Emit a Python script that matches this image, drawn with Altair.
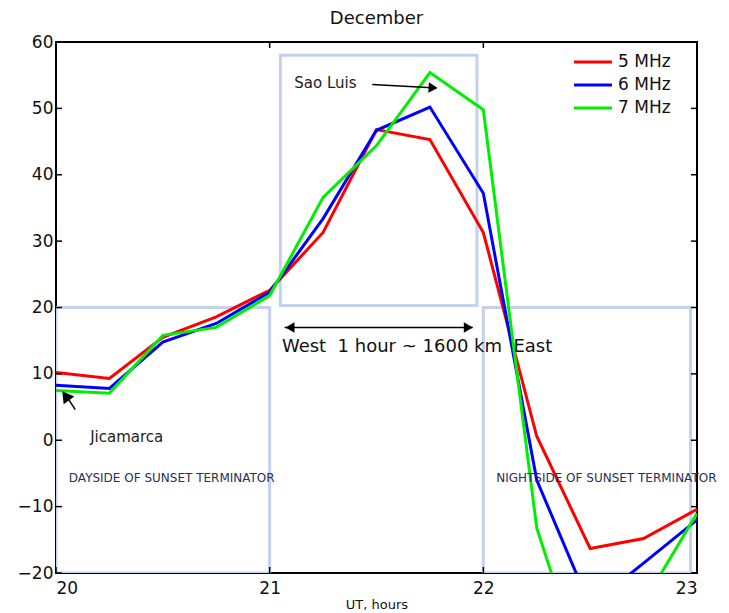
import altair as alt
import pandas as pd

# Time axis (UT hours) and the three sounding frequencies
hours = [20.0, 20.25, 20.5, 20.75, 21.0, 21.25, 21.5, 21.75, 22.0, 22.25, 22.5, 22.75, 23.0]
f5_mhz = [10.2, 9.3, 15.5, 18.6, 22.6, 31.3, 46.8, 45.3, 31.3, 0.6, -16.3, -14.8, -10.4]
f6_mhz = [8.3, 7.8, 14.8, 17.6, 22.3, 33.4, 46.7, 50.2, 37.2, -6.0, -25.0, -18.5, -12.0]
f7_mhz = [7.5, 7.1, 15.8, 17.0, 21.8, 36.6, 44.4, 55.4, 49.8, -13.2, -38.0, -24.5, -11.0]
series_names = ["5 MHz", "6 MHz", "7 MHz"]
series_colors = ["#ff0000", "#0000ff", "#00ee00"]

# Shaded regions: dayside, Sao Luis window, nightside
box_x0 = [20.0, 21.05, 22.0]
box_x1 = [21.0, 21.97, 22.97]
box_y0 = [-20.0, 20.3, -20.0]
box_y1 = [20.0, 58.0, 20.0]

x_ticks = [20, 21, 22, 23]
y_ticks = [-20, -10, 0, 10, 20, 30, 40, 50, 60]

W, H = 641, 531
FONT = "DejaVu Sans"
NB = "\u00a0"

rows = []
for name, vals in zip(series_names, [f5_mhz, f6_mhz, f7_mhz]):
    for h, v in zip(hours, vals):
        rows.append({"hour": h, "value": v, "series": name})
df = pd.DataFrame(rows)

xs = alt.Scale(domain=[20, 23], nice=False, zero=False)
ys = alt.Scale(domain=[-20, 60], nice=False, zero=False)

x_axis = alt.Axis(values=x_ticks, format="d", title="UT, hours", labelFontSize=17, labelFont=FONT,
                  titleFont=FONT, titleFontSize=13, titleFontWeight="normal",
                  labelPadding=7, titlePadding=2, ticks=False, domain=False, grid=False,
                  labelColor="#111", titleColor="#111")
y_axis = alt.Axis(values=y_ticks, format="d", title=None, labelFontSize=17, labelFont=FONT,
                  labelPadding=3, ticks=False, domain=False, grid=False, labelColor="#111")

boxes = alt.Chart(pd.DataFrame({"x0": box_x0, "x1": box_x1, "y0": box_y0, "y1": box_y1})).mark_rect(
    fill=None, stroke="#c3d1ee", strokeWidth=3, clip=True
).encode(
    x=alt.X("x0:Q", scale=xs, axis=x_axis),
    x2="x1:Q",
    y=alt.Y("y0:Q", scale=ys, axis=y_axis),
    y2="y1:Q",
)

lines = alt.Chart(df).mark_line(strokeWidth=3, clip=True).encode(
    x=alt.X("hour:Q", scale=xs),
    y=alt.Y("value:Q", scale=ys),
    color=alt.Color(
        "series:N",
        scale=alt.Scale(domain=series_names, range=series_colors),
        legend=alt.Legend(
            title=None, orient="none", legendX=526, legendY=9,
            symbolType="M-2,0H2", symbolSize=361, symbolStrokeWidth=3,
            labelFontSize=17, labelFont=FONT, labelColor="#111",
            labelOffset=14, rowPadding=4,
        ),
    ),
    detail="series:N",
)

# Arrow shafts
shafts = pd.DataFrame({
    "x0": [21.48, 21.07, 20.09],
    "x1": [21.76, 21.95, 20.05],
    "y0": [53.6, 17.0, 4.6],
    "y1": [53.1, 17.0, 6.6],
})
shaft_layer = alt.Chart(shafts).mark_rule(color="black", strokeWidth=1.5).encode(
    x="x0:Q", x2="x1:Q", y="y0:Q", y2="y1:Q"
)

# Arrow heads
heads = pd.DataFrame({
    "x": [21.765, 21.095, 21.93, 20.045],
    "y": [53.1, 17.0, 17.0, 6.7],
    "angle": [3, 180, 0, 234],
    "size": [110, 110, 110, 170],
})
head_layer = alt.Chart(heads).mark_point(
    shape="triangle-right", filled=True, color="black", opacity=1
).encode(
    x="x:Q", y="y:Q",
    angle=alt.Angle("angle:Q", scale=None),
    size=alt.Size("size:Q", scale=None, legend=None),
)

def label(text, x, y, size, align="left", color="#222"):
    return alt.Chart(pd.DataFrame({"x": [x], "y": [y], "t": [text]})).mark_text(
        font=FONT, fontSize=size, align=align, baseline="middle", color=color
    ).encode(x="x:Q", y="y:Q", text="t:N")

texts = [
    label("Sao Luis", 21.115, 53.8, 15),
    label("Jicamarca", 20.16, 0.5, 15),
    label(f"West{NB} 1 hour ~ 1600 km{NB} East", 21.69, 14.0, 18, align="center", color="#111"),
    label("DAYSIDE OF SUNSET TERMINATOR", 20.06, -5.7, 12, color="#2b2d55"),
    label("NIGHTSIDE OF SUNSET TERMINATOR", 22.06, -5.7, 12, color="#2b2d55"),
]

# Inward tick marks on all four sides
xt = pd.DataFrame({"v": x_ticks})
yt = pd.DataFrame({"v": y_ticks})
tick_kw = dict(color="black", strokeWidth=1.5)
ticks = [
    alt.Chart(xt).mark_rule(**tick_kw).encode(x="v:Q", y=alt.value(H), y2=alt.value(H - 6)),
    alt.Chart(xt).mark_rule(**tick_kw).encode(x="v:Q", y=alt.value(0), y2=alt.value(6)),
    alt.Chart(yt).mark_rule(**tick_kw).encode(y="v:Q", x=alt.value(0), x2=alt.value(6)),
    alt.Chart(yt).mark_rule(**tick_kw).encode(y="v:Q", x=alt.value(W), x2=alt.value(W - 6)),
]

chart = alt.layer(boxes, lines, shaft_layer, head_layer, *texts, *ticks).properties(
    width=W,
    height=H,
    title=alt.TitleParams("December", fontSize=18, font=FONT, fontWeight="normal",
                          color="#111", offset=5),
    autosize=alt.AutoSizeParams(type="none"),
    padding={"left": 56, "top": 42, "right": 32, "bottom": 40},
).configure_view(stroke="black", strokeWidth=2)

chart.save("out.html", embed_options={"renderer": "svg", "actions": False})
